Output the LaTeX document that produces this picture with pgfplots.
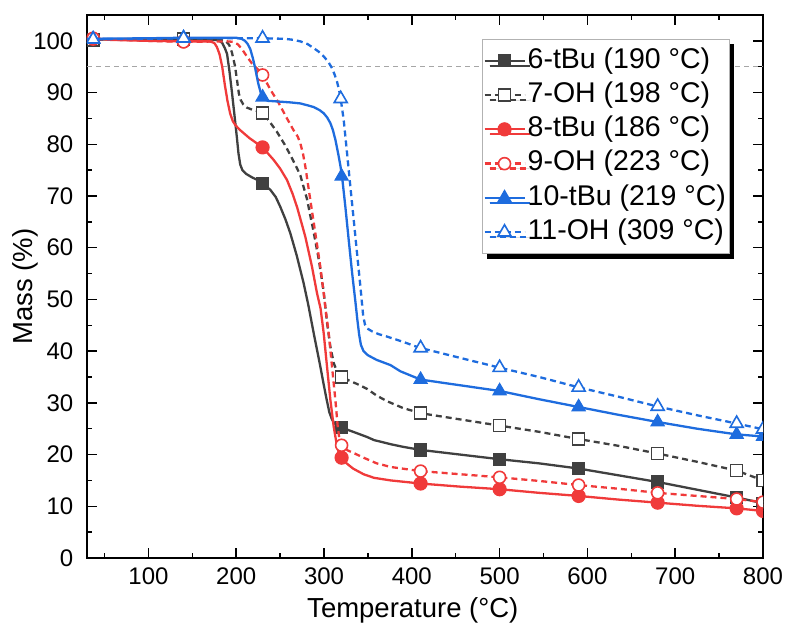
\documentclass[border=0pt]{standalone}
\usepackage{fontspec}
\setmainfont{Liberation Sans}
\usepackage{pgfplots}
\pgfplotsset{compat=1.18}
\usetikzlibrary{shadows}
\definecolor{cgray}{RGB}{64,64,64}
\definecolor{cred}{RGB}{240,58,58}
\definecolor{cblue}{RGB}{30,108,222}
\pgfplotsset{
  s6/.style={cgray, line width=2.3bp, solid, mark=square*, mark size=6bp, mark options={solid, fill=cgray, draw=cgray, line width=1.2bp}},
  s7/.style={cgray, line width=2.3bp, dash pattern=on 6bp off 4bp, mark=square*, mark size=6bp, mark options={solid, fill=white, draw=cgray, line width=1.6bp}},
  s8/.style={cred, line width=2.3bp, solid, mark=*, mark size=6.5bp, mark options={solid, fill=cred, draw=cred, line width=1.2bp}},
  s9/.style={cred, line width=2.3bp, dash pattern=on 6bp off 4bp, mark=*, mark size=6bp, mark options={solid, fill=white, draw=cred, line width=1.6bp}},
  s10/.style={cblue, line width=2.3bp, solid, mark=triangle*, mark size=7.5bp, mark options={solid, fill=cblue, draw=cblue, line width=1.2bp}},
  s11/.style={cblue, line width=2.3bp, dash pattern=on 6bp off 4bp, mark=triangle*, mark size=7.5bp, mark options={solid, fill=white, draw=cblue, line width=1.6bp}},
}
\begin{document}
\begin{tikzpicture}
\path[use as bounding box] (-87bp,-74bp) rectangle (700bp,558bp);
\begin{axis}[
  at={(0,0)}, anchor=south west,
  width=676bp, height=543bp, scale only axis,
  xmin=30, xmax=800, ymin=0, ymax=105,
  xtick={100,200,...,800}, minor xtick={50,150,...,750},
  ytick={0,10,...,100}, minor ytick={5,15,...,95},
  tick align=inside,
  major tick length=10bp, minor tick length=5bp,
  every tick/.style={black, line width=1.5bp},
  axis line style={line width=1.8bp},
  /pgf/number format/assume math mode=true,
  tick label style={font=\fontsize{24bp}{28bp}\selectfont},
  yticklabel style={inner sep=0pt, anchor=east, xshift=-13.5bp},
  xticklabel style={inner sep=0pt, anchor=north, yshift=-10bp},
  xlabel={Temperature (°C)}, ylabel={Mass (\%)},
  label style={font=\fontsize{27.5bp}{32bp}\selectfont},
  xlabel style={at={(axis description cs:0.482,-0.0958)}, anchor=center},
  ylabel style={at={(axis description cs:-0.091,0.5)}, anchor=center},
  clip marker paths=true,
  legend cell align=left,
  legend image code/.code={\draw[mark repeat=2,mark phase=2,#1] plot coordinates {(0bp,0bp) (20bp,0bp) (40bp,0bp)};},
  legend style={at={(axis description cs:0.5843,0.9558)}, anchor=north west,
    draw=gray!60, line width=0.8bp, fill=white, inner xsep=1bp, inner ysep=6bp, row sep=3.6bp,
    font=\fontsize{28.5bp}{33bp}\selectfont,
    nodes={inner sep=2bp, text height=20.7bp, text depth=6bp},
    drop shadow={shadow xshift=5bp, shadow yshift=-5bp, fill=black, opacity=1}},
]
\addplot[forget plot, color=gray!70, line width=0.9bp, dash pattern=on 5bp off 4bp] coordinates {(30,95) (800,95)};

% 6-tBu
\addplot[s6, mark=none, forget plot] coordinates {
(30,100.2) (60,100.3) (100,100.4) (140,100.4) (170,100.3) (180,100.1) (184,99.6) (187,98.6) (189.5,97.5) (192,94.5) (195,90.2) (198,85.6) (200.8,81.2) (202.5,78.3) (204.5,76.1) (207,75.0) (211,74.3) (218,73.6) (224,73.1) (230,72.4) (238.8,71.2) (245,69.8) (250.2,67.9) (256,65.5) (261.6,62.8) (269.2,58.3) (276.8,53.1) (282,49.0) (288.2,43.5) (295.8,37.0) (300,33.2) (303.4,30.3) (306,28.2) (309,26.8) (312,26.0) (315,25.5) (320,25.2) (330,24.6) (338,24.1) (349,23.4) (357,22.8) (376,22.0) (390,21.5) (410,20.9) (455,20.0) (500,19.1) (545,18.3) (590,17.3) (635,16.0) (680,14.7) (725,13.2) (770,11.7) (800,10.6)};
\addplot[s6, only marks, forget plot] coordinates {(37,100.1) (140,100.4) (230,72.4) (320,25.2) (410,20.9) (500,19.1) (590,17.3) (680,14.7) (770,11.7) (800,10.6)};
\addlegendimage{s6}
\addlegendentry{6-tBu (190 °C)}

% 7-OH
\addplot[s7, mark=none, forget plot] coordinates {
(30,100.2) (100,100.3) (140,100.3) (180,100.2) (188,100.0) (192,99.2) (195,97.8) (198.5,95.2) (200.8,92.5) (203,89.8) (205,88.6) (208,87.7) (212,87.1) (218,86.7) (224,86.4) (230,86.0) (237,84.6) (246,82.5) (255,80.0) (262,77.8) (268,75.8) (273,74.0) (280.6,69.4) (288.2,63.0) (293.9,57.8) (299.6,51.5) (303.4,45.5) (307.2,40.9) (311,37.7) (315,36.0) (320,35.0) (330,34.2) (337,33.7) (349,32.7) (360,31.4) (372,30.3) (390,29.0) (410,28.0) (455,26.8) (500,25.6) (545,24.4) (590,23.0) (635,21.7) (680,20.2) (725,18.6) (770,16.9) (800,15.0)};
\addplot[s7, only marks, forget plot] coordinates {(37,100.2) (140,100.3) (230,86.0) (320,35.0) (410,28.0) (500,25.6) (590,23.0) (680,20.2) (770,16.9) (800,15.0)};
\addlegendimage{s7}
\addlegendentry{7-OH (198 °C)}

% 8-tBu
\addplot[s8, mark=none, forget plot] coordinates {
(30,101.0) (40,100.5) (55,100.2) (100,100.0) (140,99.9) (170,99.9) (175,99.6) (178,98.8) (181,97.4) (184,95.0) (187,91.5) (190,88.4) (193,86.0) (196,84.5) (199,83.7) (204,82.8) (215,81.2) (230,79.4) (242.5,77.0) (250,75.3) (257.8,73.1) (264,70.5) (269.2,67.9) (274,65.0) (278.7,62.1) (286.3,56.3) (292,51.2) (296,48.3) (299.6,43.5) (303.4,37.0) (307.2,30.6) (311,25.4) (314.8,21.6) (317,20.2) (320,19.4) (325,18.4) (333,17.3) (345,16.2) (357,15.5) (376,15.0) (410,14.4) (455,13.8) (500,13.3) (545,12.6) (590,12.0) (635,11.3) (680,10.7) (725,10.1) (770,9.6) (800,9.1)};
\addplot[s8, only marks, forget plot] coordinates {(37,100.4) (140,99.9) (230,79.4) (320,19.4) (410,14.4) (500,13.3) (590,12.0) (680,10.7) (770,9.6) (800,9.1)};
\addlegendimage{s8}
\addlegendentry{8-tBu (186 °C)}

% 9-OH
\addplot[s9, mark=none, forget plot] coordinates {
(30,100.8) (45,100.3) (100,100.0) (140,99.8) (190,99.9) (197,99.8) (202,99.3) (207,98.3) (212,97.0) (218,95.6) (224,94.6) (230,93.4) (238.8,90.6) (248.3,88.0) (257.8,85.0) (265,82.8) (270,81.5) (273,80.2) (276,78.2) (278.7,75.7) (284.4,69.2) (290.1,62.8) (295.8,56.3) (299.6,51.2) (302,47.8) (305.3,43.5) (309.1,37.0) (312.9,30.6) (315.5,25.6) (317.5,23.0) (320,21.8) (327,20.8) (335,20.2) (345,19.4) (360,18.3) (376,17.6) (410,16.8) (455,16.2) (500,15.6) (545,14.9) (590,14.1) (635,13.4) (680,12.6) (725,12.0) (770,11.4) (800,10.8)};
\addplot[s9, only marks, forget plot] coordinates {(37,100.5) (140,99.8) (230,93.4) (320,21.8) (410,16.8) (500,15.6) (590,14.1) (680,12.6) (770,11.4) (800,10.8)};
\addlegendimage{s9}
\addlegendentry{9-OH (223 °C)}

% 10-tBu
\addplot[s10, mark=none, forget plot] coordinates {
(30,100.4) (100,100.5) (140,100.6) (200,100.6) (206,100.4) (210,100.0) (213,99.4) (216,98.4) (219,96.6) (221.6,94.7) (225,91.8) (228,89.9) (231,88.8) (236,88.4) (245,88.3) (261.6,88.1) (273,87.9) (282,87.5) (288.2,87.2) (295,86.6) (299.6,86.0) (303.5,85.2) (307.2,84.1) (310,82.8) (312.9,80.9) (316,78.3) (318.6,75.9) (320.5,73.8) (324.3,67.9) (328.1,61.5) (332,55.1) (335.7,49.6) (338,46.0) (340,43.2) (342,41.2) (345,40.0) (350,39.2) (360,38.3) (375.7,37.3) (387,36.1) (410,34.5) (455,33.4) (500,32.3) (545,30.7) (590,29.2) (635,27.7) (680,26.3) (725,25.0) (770,23.9) (800,23.5)};
\addplot[s10, only marks, forget plot] coordinates {(37,100.4) (140,100.6) (230,89.1) (320,73.8) (410,34.5) (500,32.3) (590,29.2) (680,26.3) (770,23.9) (800,23.5)};
\addlegendimage{s10}
\addlegendentry{10-tBu (219 °C)}

% 11-OH
\addplot[s11, mark=none, forget plot] coordinates {
(30,100.3) (100,100.4) (140,100.5) (230,100.5) (255,100.4) (265,100.2) (273,99.9) (281,99.4) (288.2,98.6) (294,97.9) (299.6,97.0) (305,95.9) (309.1,94.7) (312,93.5) (314.8,92.1) (317,90.6) (318.6,89.2) (322.4,84.7) (326.2,78.3) (330,71.8) (333.8,65.4) (337.6,58.9) (341.4,52.5) (344.5,47.0) (346.5,45.2) (349,44.4) (355,43.8) (362,43.3) (372,42.8) (390,41.8) (408,40.7) (455,38.7) (500,36.8) (545,35.0) (590,33.0) (635,31.2) (680,29.3) (725,27.6) (770,26.0) (800,24.9)};
\addplot[s11, only marks, forget plot] coordinates {(37,100.3) (140,100.5) (230,100.5) (319,88.8) (410,40.6) (500,36.8) (590,33.0) (680,29.3) (770,26.0) (800,24.9)};
\addlegendimage{s11}
\addlegendentry{11-OH (309 °C)}
\end{axis}
\end{tikzpicture}
\end{document}
